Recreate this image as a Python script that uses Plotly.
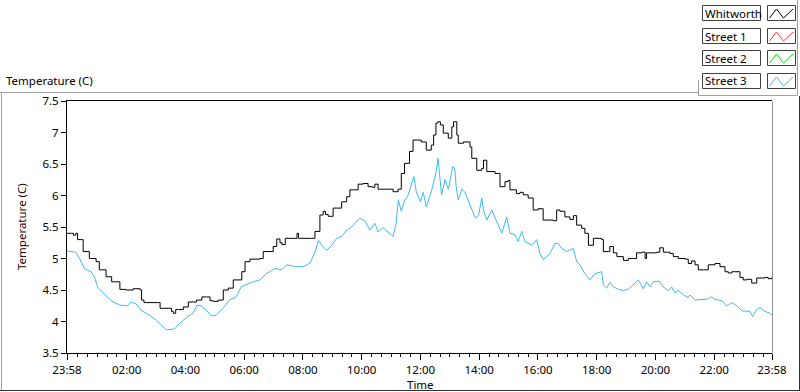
import plotly.graph_objects as go

# ---------------- data (hours after 23:58 of the previous day) ----------------
whit_h = [0, 0.15, 0.22, 0.30, 0.36, 0.50, 0.55, 0.76, 0.99, 1.10, 1.33, 1.52, 1.80, 2.00, 2.25, 2.49,
          2.54, 2.62, 3.11, 3.17, 3.45, 3.56, 3.62, 3.70, 3.79, 3.96, 4.13, 4.41, 4.59, 4.75, 4.87,
          4.98, 5.15, 5.32, 5.49, 5.66, 5.95, 6.06, 6.23, 6.57, 6.68, 7.02, 7.14, 7.25, 7.32, 7.43,
          7.77, 7.83, 7.88, 8.33, 8.44, 8.61, 8.72, 8.80, 8.89, 9.06, 9.23, 9.35, 9.52, 9.63, 9.75,
          9.91, 10.08, 10.25, 10.40, 10.48, 10.59, 10.99, 11.10, 11.27, 11.38, 11.49, 11.66, 11.78,
          11.91, 12.06, 12.23, 12.40, 12.48, 12.56, 12.62, 12.71, 12.81, 12.98, 13.10, 13.16, 13.27,
          13.32, 13.50, 13.72, 13.78, 13.95, 14.12, 14.18, 14.29, 14.40, 14.57, 14.74, 14.91, 15.02,
          15.08, 15.30, 15.42, 15.53, 15.70, 15.87, 16.04, 16.21, 16.55, 16.67, 16.78, 16.95, 17.12,
          17.24, 17.35, 17.52, 17.63, 17.75, 17.92, 18.20, 18.26, 18.43, 18.48, 18.60, 18.72, 18.94,
          19.11, 19.28, 19.39, 19.56, 19.68, 19.73, 20.07, 20.18, 20.30, 20.52, 20.64, 20.81, 21.04,
          21.15, 21.26, 21.38, 21.49, 21.66, 21.83, 22.06, 22.23, 22.40, 22.51, 22.63, 22.77, 22.91,
          23.02, 23.14, 23.31, 23.42, 23.48, 23.76, 23.87, 24.00]
whit_t = [5.40, 5.40, 5.37, 5.40, 5.30, 5.30, 5.11, 5.00, 4.95, 4.82, 4.71, 4.63, 4.51, 4.50, 4.52, 4.50,
          4.34, 4.30, 4.30, 4.21, 4.21, 4.16, 4.13, 4.19, 4.19, 4.23, 4.31, 4.34, 4.39, 4.39, 4.33,
          4.32, 4.34, 4.50, 4.53, 4.66, 4.79, 4.95, 4.99, 5.00, 5.11, 5.19, 5.31, 5.25, 5.22, 5.32,
          5.32, 5.40, 5.32, 5.32, 5.43, 5.69, 5.75, 5.70, 5.67, 5.80, 5.80, 5.90, 5.98, 6.09, 6.09,
          6.18, 6.19, 6.14, 6.13, 6.18, 6.10, 6.10, 6.06, 6.10, 6.35, 6.51, 6.70, 6.88,
          6.88, 6.85, 6.72, 6.80, 6.96, 7.15, 7.17, 7.12, 6.99, 6.91, 7.09, 7.17, 6.96,
          6.83, 6.85, 6.77, 6.59, 6.40, 6.43, 6.56, 6.38, 6.38, 6.35, 6.14, 6.22, 6.24,
          6.09, 6.03, 6.05, 6.01, 5.96, 5.77, 5.79, 5.61, 5.60, 5.77, 5.75, 5.66, 5.62,
          5.68, 5.53, 5.48, 5.40, 5.21, 5.32, 5.30, 5.11, 5.11, 5.19, 5.09, 5.03, 4.97,
          5.00, 5.00, 5.09, 5.10, 5.00, 5.09, 5.10, 5.17, 5.10, 5.08, 5.03, 5.00, 4.99,
          4.92, 4.96, 4.90, 4.82, 4.82, 4.90, 4.92, 4.87, 4.79, 4.77, 4.79, 4.79, 4.70,
          4.66, 4.67, 4.61, 4.61, 4.69, 4.70, 4.68, 4.70]

st3_h = [0, 0.30, 0.43, 0.59, 0.82, 0.93, 1.05, 1.16, 1.33, 1.50, 1.79, 2.07, 2.18, 2.35, 2.52, 2.81,
         3.04, 3.26, 3.38, 3.66, 3.83, 4.12, 4.29, 4.43, 4.57, 4.74, 4.91, 5.08, 5.31, 5.53, 5.76,
         5.93, 6.27, 6.57, 6.79, 7.08, 7.31, 7.48, 7.77, 8.05, 8.28, 8.45, 8.56, 8.67, 8.84, 9.01,
         9.18, 9.35, 9.52, 9.69, 9.80, 9.97, 10.14, 10.31, 10.48, 10.59, 10.76, 10.93, 11.10, 11.20,
         11.28, 11.38, 11.50, 11.60, 11.73, 11.81, 11.89, 12.03, 12.13, 12.23, 12.40, 12.51, 12.58,
         12.63, 12.70, 12.75, 12.87, 12.98, 13.05, 13.13, 13.20, 13.25, 13.32, 13.44, 13.55, 13.67,
         13.78, 13.90, 14.01, 14.12, 14.18, 14.29, 14.46, 14.63, 14.80, 14.97, 15.08, 15.25, 15.36,
         15.48, 15.59, 15.82, 15.99, 16.10, 16.21, 16.44, 16.61, 16.72, 16.84, 17.01, 17.24, 17.35,
         17.46, 17.63, 17.80, 17.97, 18.20, 18.26, 18.37, 18.48, 18.60, 18.77, 18.94, 19.11, 19.28,
         19.45, 19.62, 19.73, 19.85, 19.96, 20.16, 20.30, 20.47, 20.58, 20.70, 20.81, 20.98, 21.15,
         21.21, 21.38, 21.55, 21.77, 21.94, 22.06, 22.29, 22.46, 22.63, 22.80, 22.97, 23.14, 23.25,
         23.34, 23.48, 23.59, 23.76, 23.93, 24.00]
st3_t = [5.12, 5.10, 5.00, 4.84, 4.79, 4.71, 4.54, 4.49, 4.42, 4.33, 4.26, 4.25, 4.31, 4.28, 4.18, 4.10,
         4.02, 3.92, 3.87, 3.88, 3.97, 4.08, 4.13, 4.26, 4.25, 4.18, 4.09, 4.10, 4.21, 4.34, 4.39,
         4.55, 4.62, 4.66, 4.76, 4.84, 4.82, 4.90, 4.87, 4.87, 4.93, 5.11, 5.29, 5.21, 5.13, 5.21,
         5.32, 5.35, 5.45, 5.50, 5.56, 5.64, 5.60, 5.45, 5.56, 5.42, 5.49, 5.42, 5.35, 5.55,
         5.93, 5.75, 5.93, 5.99, 6.17, 6.30, 6.06, 5.90, 6.05, 5.82, 6.06, 6.25, 6.40,
         6.59, 6.30, 6.01, 6.25, 6.10, 6.25, 6.46, 6.43, 6.14, 5.93, 6.10, 6.05, 5.90,
         5.77, 5.64, 5.68, 5.96, 5.77, 5.61, 5.77, 5.59, 5.40, 5.66, 5.40, 5.38, 5.27,
         5.43, 5.27, 5.21, 5.30, 5.08, 4.98, 5.08, 5.24, 5.24, 5.16, 5.11, 5.16, 4.95,
         4.90, 4.76, 4.66, 4.76, 4.79, 4.58, 4.53, 4.62, 4.55, 4.51, 4.49, 4.51, 4.58,
         4.66, 4.52, 4.63, 4.55, 4.63, 4.64, 4.55, 4.49, 4.55, 4.45, 4.50, 4.42, 4.38,
         4.42, 4.34, 4.35, 4.35, 4.39, 4.35, 4.33, 4.25, 4.30, 4.25, 4.17, 4.16, 4.16,
         4.08, 4.19, 4.22, 4.16, 4.13, 4.10]

x_tick_vals = [0, 2.0333, 4.0333, 6.0333, 8.0333, 10.0333, 12.0333, 14.0333, 16.0333, 18.0333,
               20.0333, 22.0333, 24]
x_tick_text = ["23:58", "02:00", "04:00", "06:00", "08:00", "10:00", "12:00", "14:00", "16:00",
               "18:00", "20:00", "22:00", "23:58"]
y_tick_vals = [3.5, 4, 4.5, 5, 5.5, 6, 6.5, 7, 7.5]
y_tick_text = ["3.5", "4", "4.5", "5", "5.5", "6", "6.5", "7", "7.5"]

legend_names = ["Whitworth", "Street 1", "Street 2", "Street 3"]
legend_colors = ["#000000", "#ff4040", "#00e000", "#3cbaf2"]

# ---------------- figure ----------------
W, H = 800, 392
FONT = "Noto Sans"
FS = 11.5


def px(x):
    return x / W


def py(y):
    return 1 - y / H


fig = go.Figure()
fig.add_trace(go.Scatter(x=whit_h, y=whit_t, mode="lines", line=dict(color=legend_colors[0], width=1, shape="hv"),
                         name=legend_names[0], showlegend=False, hoverinfo="skip"))
fig.add_trace(go.Scatter(x=st3_h, y=st3_t, mode="lines", line=dict(color=legend_colors[3], width=1),
                         name=legend_names[3], showlegend=False, hoverinfo="skip"))

shapes = []
grey = "#a0a0a0"
dark = "#303030"


def line(x0, y0, x1, y1, color, w=1):
    shapes.append(dict(type="line", xref="paper", yref="paper", x0=px(x0), y0=py(y0), x1=px(x1), y1=py(y1),
                       line=dict(color=color, width=w)))


# outer frame
line(0, 92.5, 698.5, 92.5, grey)
line(1.5, 92.5, 1.5, 390.5, grey)
line(0, 390.5, 800, 390.5, dark)
line(799.5, 96, 799.5, 391, dark)
# legend panel border
line(698.5, 80, 698.5, 95.5, grey)
line(698.5, 95.5, 797.5, 95.5, grey)
line(797.5, 0, 797.5, 95.5, grey)
# plot right border (grey)
line(772.5, 101.5, 772.5, 353.5, "#909090")

annotations = []
row_top = [5, 28, 50, 73]
for name, col, top in zip(legend_names, legend_colors, row_top):
    shapes.append(dict(type="rect", xref="paper", yref="paper", x0=px(702.5), x1=px(760.5),
                       y0=py(top + 0.5), y1=py(top + 15.5), line=dict(color="#404040", width=1),
                       fillcolor="white"))
    shapes.append(dict(type="rect", xref="paper", yref="paper", x0=px(767.5), x1=px(795.5),
                       y0=py(top + 0.5), y1=py(top + 15.5), line=dict(color="#404040", width=1),
                       fillcolor="white"))
    # zigzag glyph
    gx = [769.5, 776.5, 783.5, 793]
    gy = [top + 13, top + 4, top + 13, top + 4]
    path = "M " + " L ".join(f"{px(a)},{py(b)}" for a, b in zip(gx, gy))
    shapes.append(dict(type="path", xref="paper", yref="paper", path=path, line=dict(color=col, width=1)))
    annotations.append(dict(xref="paper", yref="paper", x=px(703), y=py(top + 8), text=name, showarrow=False,
                            xanchor="left", yanchor="middle", font=dict(family=FONT, size=FS, color="#000000")))

# titles
annotations.append(dict(xref="paper", yref="paper", x=px(4), y=py(81), text="Temperature (C)", showarrow=False,
                        xanchor="left", yanchor="middle", font=dict(family=FONT, size=FS, color="#000000")))
annotations.append(dict(xref="paper", yref="paper", x=px(21), y=py(227), text="Temperature (C)", showarrow=False,
                        textangle=-90, xanchor="center", yanchor="middle",
                        font=dict(family=FONT, size=FS, color="#2a0000")))
annotations.append(dict(xref="paper", yref="paper", x=px(420), y=py(384.5), text="Time", showarrow=False,
                        xanchor="center", yanchor="middle", font=dict(family=FONT, size=FS, color="#000000")))

fig.update_layout(
    width=W, height=H, autosize=False,
    margin=dict(l=0, r=0, t=0, b=0, autoexpand=False),
    paper_bgcolor="white", plot_bgcolor="white",
    showlegend=False, hovermode=False,
    shapes=shapes, annotations=annotations,
    xaxis=dict(domain=[px(67), px(772)], range=[0, 24], tickmode="array", tickvals=x_tick_vals,
               ticktext=x_tick_text, ticks="outside", ticklen=6, tickwidth=1, tickcolor="black",
               showgrid=False, zeroline=False, showline=True, linecolor="black", linewidth=1, mirror=True,
               automargin=False,
               tickfont=dict(family=FONT, size=FS, color="#000000"),
               minor=dict(tickmode="linear", tick0=0.03333, dtick=1 / 3, ticks="outside", ticklen=3,
                          tickcolor="black", showgrid=False)),
    yaxis=dict(domain=[py(353), py(101)], range=[3.5, 7.5], tickmode="array", tickvals=y_tick_vals,
               ticktext=y_tick_text, ticks="outside", ticklen=5, tickwidth=1, tickcolor="black",
               showgrid=False, zeroline=False, showline=True, linecolor="black", linewidth=1,
               automargin=False,
               tickfont=dict(family=FONT, size=FS, color="#000000")),
)

fig.write_html("out.html", config={"displayModeBar": False, "staticPlot": True},
               post_script="document.body.style.margin='0';document.body.style.overflow='hidden';")
